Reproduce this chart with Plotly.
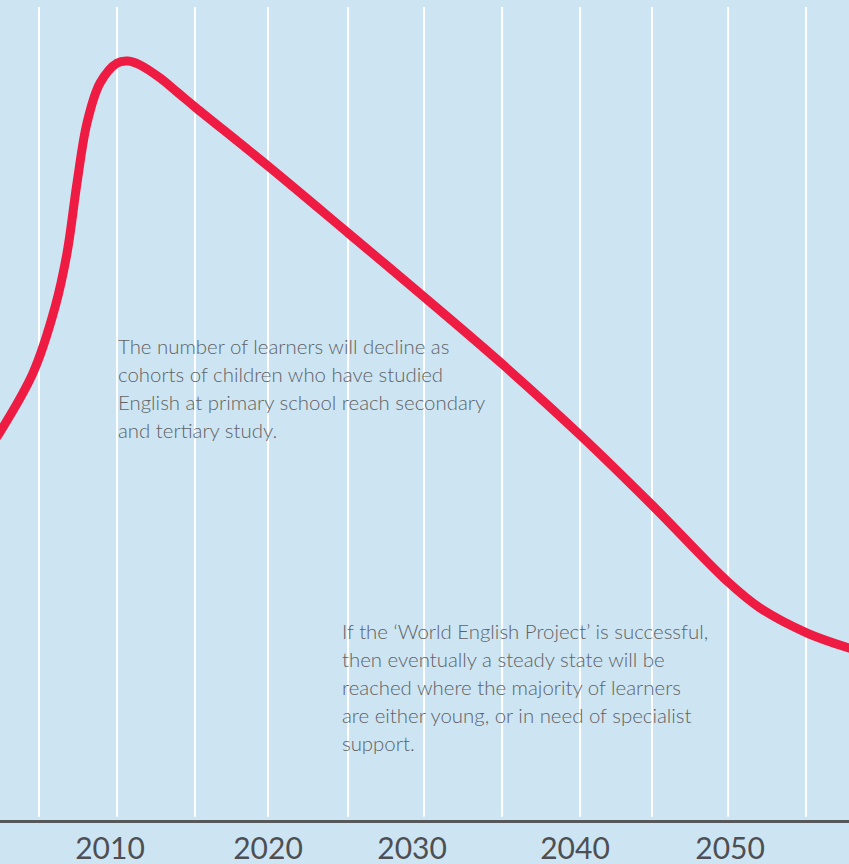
import plotly.graph_objects as go

# Learner numbers over time (index, arbitrary units)
years = [2002.0, 2002.46, 2004.61, 2006.05, 2006.83, 2007.48, 2008.13,
         2008.98, 2010.09, 2010.80, 2011.59, 2012.89, 2014.00, 2015.17,
         2019.93, 2025.15, 2030.03, 2035.19, 2040.27, 2044.96, 2049.92,
         2052.0, 2055.07, 2057.8, 2058.26]
learners = [46.43, 47.72, 54.98, 63.10, 69.74, 78.35, 85.73,
            90.65, 93.11, 93.36, 92.87, 91.27, 89.54, 87.70,
            80.44, 72.20, 64.45, 56.09, 47.36, 38.75, 29.27,
            26.08, 23.00, 21.16, 20.91]

# Vertical guide lines (years)
grid_years = [2005.0, 2010.09, 2015.17, 2019.93, 2025.15, 2030.1, 2035.19,
              2040.27, 2044.96, 2049.92, 2055.0]

# Axis labels
tick_pos = [2009.63, 2019.93, 2029.32, 2039.94, 2050.05]
tick_text = ["2010", "2020", "2030", "2040", "2050"]

note_1 = ["The number of learners will decline as",
          "cohorts of children who have studied",
          "English at primary school reach secondary",
          "and tertiary study."]
note_2 = ["If the \u2018World English Project\u2019 is successful,",
          "then eventually a steady state will be",
          "reached where the majority of learners",
          "are either young, or in need of specialist",
          "support."]

BG = "#cde5f2"
RED = "#ee1b43"
TEXT = "#606265"

fig = go.Figure()

for gx in grid_years:
    fig.add_shape(type="line", xref="x", yref="y", x0=gx, x1=gx, y0=0.4, y1=100,
                  line=dict(color="white", width=2), layer="below")

fig.add_trace(go.Scatter(
    x=years, y=learners, mode="lines",
    line=dict(color=RED, width=9, shape="spline", smoothing=1.0),
    hoverinfo="skip", showlegend=False,
))

step = 3.444  # line spacing in y units
def add_note(lines, x0, ytop):
    for i, t in enumerate(lines):
        fig.add_annotation(x=x0, y=ytop - i * step, xref="x", yref="y",
                           text=t, showarrow=False, xanchor="left", yanchor="middle",
                           font=dict(family="Lato", size=20.4, color=TEXT, weight=300))

add_note(note_1, 2010.02, (820 - 346) / 8.13)
add_note(note_2, 2024.62, (820 - 631) / 8.13)

fig.update_layout(
    width=849, height=864,
    margin=dict(l=0, r=0, t=7, b=44),
    paper_bgcolor=BG, plot_bgcolor=BG,
    xaxis=dict(range=[2002.46, 2057.8], showgrid=False, zeroline=False,
               showline=True, linecolor="#55575a", linewidth=3,
               tickvals=tick_pos, ticktext=tick_text, ticks="",
               tickfont=dict(family="Lato", size=30, color="#4d4f53")),
    yaxis=dict(range=[0, 100], visible=False, showgrid=False, zeroline=False),
)

fig.write_html("out.html")
